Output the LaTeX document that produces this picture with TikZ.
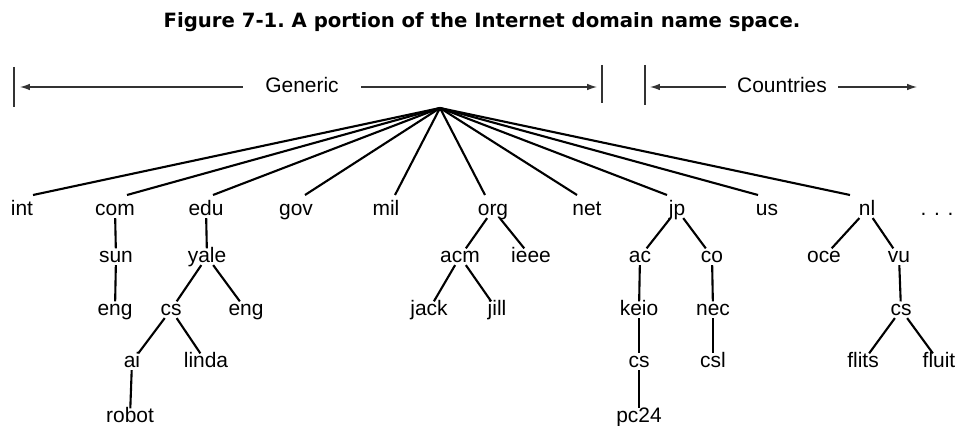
\documentclass[tikz,border=0pt]{standalone}
\usepackage{fontspec}
\setmainfont{Liberation Sans}
\newfontfamily\titlefont{DejaVu Sans}
\usetikzlibrary{arrows.meta,calc}
\tikzset{
  dom/.style={anchor=base, inner sep=0pt, text height=9.5pt, text depth=2pt,
    font=\fontsize{14.9}{17}\selectfont},
  edge/.style={draw=black, line width=1.5pt},
  rlbl/.style={anchor=base, inner ysep=0pt, font=\fontsize{14.9}{17}\selectfont},
  rng/.style={draw=black!80, line width=0.8pt, -{Latex[length=7pt,width=4.6pt]}},
  tick/.style={draw=black!80, line width=0.8pt}
}

\begin{document}
\begin{tikzpicture}[x=0.025cm, y=-0.025cm]
  \useasboundingbox (0,0) rectangle (958,426);
  \node[anchor=base, font=\titlefont\bfseries\fontsize{14}{16}\selectfont] (title) at (482,28)
    {\frenchspacing Figure 7-1. A portion of the Internet domain name space.};

  % ranges
  \node[rlbl, inner xsep=16pt] (gen) at (302,93) {Generic};
  \node[rlbl, inner xsep=8pt] (ctr) at (782,93) {Countries};
  \coordinate (gl) at (20,87);
  \coordinate (gr) at (597,87);
  \coordinate (cl) at (650,87);
  \coordinate (cr) at (917,87);
  \draw[tick] (14,67) -- (14,107);
  \draw[tick] (602,65) -- (602,103);
  \draw[tick] (645,65) -- (645,105);
  \draw[rng] (gen.west |- gl) -- (gl);
  \draw[rng] (gen.east |- gr) -- (gr);
  \draw[rng] (ctr.west |- cl) -- (cl);
  \draw[rng] (ctr.east |- cr) -- (cr);

  \coordinate (root) at (440,108);

  % top level
  \node[dom] (int) at (22,215) {int};
  \node[dom] (com) at (115,215) {com};
  \node[dom] (edu) at (206,215) {edu};
  \node[dom] (gov) at (296,215) {gov};
  \node[dom] (mil) at (386,215) {mil};
  \node[dom] (org) at (493,215) {org};
  \node[dom] (net) at (587,215) {net};
  \node[dom] (jp) at (677,215) {jp};
  \node[dom] (us) at (767,215) {us};
  \node[dom] (nl) at (867,215) {nl};
  \node[dom] (more) at (937,215) {. . .};

  % second level
  \node[dom] (sun) at (116,262) {sun};
  \node[dom] (yale) at (207,262) {yale};
  \node[dom] (acm) at (460,262) {acm};
  \node[dom] (ieee) at (531,262) {ieee};
  \node[dom] (ac) at (640,262) {ac};
  \node[dom] (co) at (712,262) {co};
  \node[dom] (oce) at (824,262) {oce};
  \node[dom] (vu) at (899,262) {vu};

  % third level
  \node[dom] (suneng) at (115,315) {eng};
  \node[dom] (yalecs) at (171,315) {cs};
  \node[dom] (yaleeng) at (246,315) {eng};
  \node[dom] (jack) at (429,315) {jack};
  \node[dom] (jill) at (497,315) {jill};
  \node[dom] (keio) at (639,315) {keio};
  \node[dom] (nec) at (713,315) {nec};
  \node[dom] (vucs) at (901,315) {cs};

  % fourth and fifth level
  \node[dom] (ai) at (132,367) {ai};
  \node[dom] (linda) at (206,367) {linda};
  \node[dom] (keiocs) at (639,367) {cs};
  \node[dom] (csl) at (713,367) {csl};
  \node[dom] (flits) at (863,367) {flits};
  \node[dom] (fluit) at (939,367) {fluit};
  \node[dom] (robot) at (130,422) {robot};
  \node[dom] (pc) at (639,422) {pc24};

  \foreach \n/\d in {int/11, com/12, edu/7, gov/9, mil/9, org/-8, net/-10, jp/-10, us/-9, nl/-17}
    \draw[edge] (root) -- ($(\n.base)+(\d,-20)$);

  \foreach \a/\b in {com/sun, sun/suneng, edu/yale, yale/yalecs, yale/yaleeng,
      yalecs/ai, yalecs/linda, ai/robot, org/acm, org/ieee, acm/jack, acm/jill,
      jp/ac, jp/co, ac/keio, keio/keiocs, keiocs/pc, co/nec, nec/csl,
      nl/oce, nl/vu, vu/vucs, vucs/flits, vucs/fluit}
    \draw[edge] (\a) -- (\b);
\end{tikzpicture}
\end{document}
